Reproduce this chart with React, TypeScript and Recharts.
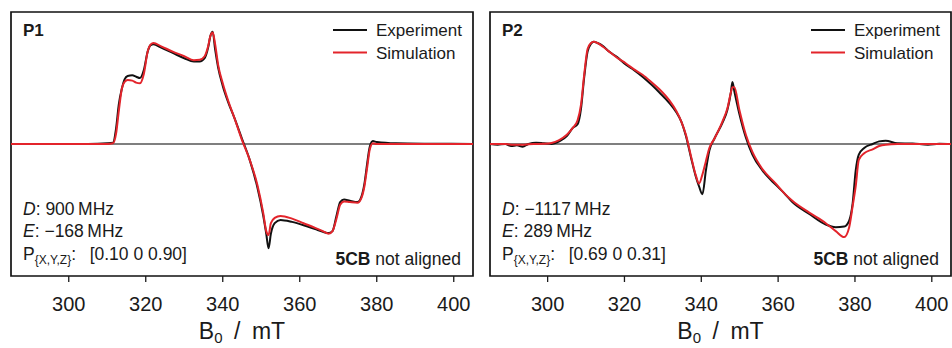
import { LineChart, Line, XAxis, YAxis, ReferenceLine, ReferenceArea } from "recharts";

// P1 spectrum (field in mT, signal normalised to the frame half-height)
const field1 = [285, 295, 305, 310, 311.5, 312.3, 313, 313.8, 314.5, 315.3, 316.5, 317.5, 318.5, 319.5, 320.5, 321.3, 322, 324, 327, 330, 332.5, 334, 335.3, 336.2, 336.8, 337.4, 338, 338.8, 340, 341.5, 343, 345, 347, 349, 350.5, 351.3, 351.9, 352.5, 353.5, 355, 358, 361, 364, 366, 367.5, 368.5, 369.5, 370.5, 371.5, 373, 375, 376, 376.8, 377.5, 378.2, 379, 380, 385, 395, 405];
const exp1 = [0, 0, 0, 0.005, 0.01, 0.12, 0.3, 0.42, 0.49, 0.515, 0.52, 0.51, 0.5, 0.56, 0.7, 0.75, 0.755, 0.73, 0.69, 0.65, 0.625, 0.625, 0.65, 0.73, 0.82, 0.85, 0.72, 0.58, 0.44, 0.31, 0.2, 0.04, -0.12, -0.33, -0.54, -0.68, -0.79, -0.68, -0.6, -0.575, -0.59, -0.615, -0.645, -0.665, -0.675, -0.66, -0.55, -0.44, -0.42, -0.43, -0.44, -0.4, -0.3, -0.15, -0.02, 0.022, 0.015, 0.005, 0.002, 0];
const sim1 = [0, 0, 0, 0, 0.005, 0.08, 0.25, 0.42, 0.47, 0.485, 0.48, 0.465, 0.46, 0.53, 0.7, 0.755, 0.765, 0.74, 0.7, 0.665, 0.635, 0.638, 0.665, 0.74, 0.82, 0.845, 0.76, 0.6, 0.46, 0.32, 0.2, 0.03, -0.12, -0.31, -0.52, -0.66, -0.69, -0.6, -0.56, -0.545, -0.565, -0.6, -0.635, -0.66, -0.68, -0.66, -0.57, -0.46, -0.435, -0.44, -0.445, -0.41, -0.32, -0.18, -0.04, 0.005, 0, 0, 0, 0];

// P2 spectrum
const field2 = [285, 287, 289, 290.5, 292, 293.5, 295, 297, 299, 301, 303, 305, 306.5, 307.8, 308.7, 309.5, 310.4, 311.3, 312, 313, 314.5, 316, 318, 320.4, 322.5, 324.7, 327, 329.1, 331.7, 333.5, 334.8, 336, 337.3, 338.6, 339.4, 340.3, 341.2, 342.1, 343.4, 345.5, 346.8, 347.7, 348.1, 348.6, 349.9, 351.6, 353.3, 355.9, 359.4, 361.5, 363.7, 368.1, 372.4, 375, 377.2, 378.5, 379.4, 380.2, 381, 382.4, 384.6, 386.3, 388, 391, 395, 399, 402, 405];
const exp2 = [0, -0.005, 0, -0.015, -0.01, -0.02, 0, 0.01, 0.005, 0, 0.02, 0.06, 0.12, 0.15, 0.27, 0.5, 0.7, 0.76, 0.775, 0.765, 0.74, 0.7, 0.66, 0.6, 0.56, 0.51, 0.45, 0.39, 0.31, 0.24, 0.17, 0.06, -0.1, -0.25, -0.32, -0.38, -0.2, -0.05, 0.04, 0.16, 0.26, 0.39, 0.47, 0.4, 0.23, 0.05, -0.08, -0.2, -0.31, -0.37, -0.44, -0.53, -0.61, -0.63, -0.625, -0.58, -0.45, -0.2, -0.08, -0.03, 0, 0.02, 0.025, 0.005, 0.003, -0.005, 0.002, 0];
const sim2 = [0, 0, 0, -0.005, -0.005, -0.005, -0.002, 0, 0.002, 0.008, 0.03, 0.07, 0.12, 0.18, 0.3, 0.52, 0.72, 0.765, 0.775, 0.765, 0.735, 0.7, 0.655, 0.61, 0.565, 0.525, 0.47, 0.415, 0.33, 0.25, 0.17, 0.07, -0.09, -0.24, -0.3, -0.23, -0.13, -0.03, 0.04, 0.17, 0.27, 0.39, 0.43, 0.43, 0.26, 0.07, -0.06, -0.19, -0.3, -0.37, -0.43, -0.52, -0.6, -0.66, -0.705, -0.63, -0.47, -0.32, -0.12, -0.07, -0.04, -0.015, -0.005, 0, 0, 0, 0, 0];

const xTicks = [300, 320, 340, 360, 380, 400];
const seriesNames = ["Experiment", "Simulation"];
const seriesColors = ["#111111", "#e3242b"];
const params1 = ["900", "\u2212168", "[0.10 0 0.90]"];
const params2 = ["\u22121117", "289", "[0.69 0 0.31]"];

const FONT = "'Liberation Sans', Arial, sans-serif";
const TXT = "#1a1a1a";
const W = 476;
const H = 348;

function AxisTitle(props: any) {
  const vb = props.viewBox || {};
  return (
    <text x={vb.x + vb.width / 2} y={339} textAnchor="middle" fontSize={23} fill={TXT} fontFamily={FONT}>
      B<tspan fontSize={15} dy={4}>0</tspan>
      <tspan dy={-4}>{"\u2002/\u2002mT"}</tspan>
    </text>
  );
}

function Panel({ left, fl, fr, title, field, exp, sim, params }: any) {
  const data = field.map((b: number, i: number) => ({ b, exp: exp[i], sim: sim[i] }));
  return (
    <div style={{ position: "absolute", left, top: 0, width: W, height: H }}>
      <LineChart width={W} height={H} data={data} margin={{ top: 12, right: W - fr, bottom: 12, left: fl }}>
        <XAxis
          dataKey="b"
          type="number"
          domain={[285, 405]}
          ticks={xTicks}
          allowDataOverflow
          axisLine={false}
          tickLine={{ stroke: TXT, strokeWidth: 1.3 }}
          tickSize={6}
          tickMargin={15}
          height={60}
          tick={{ fontSize: 20, fill: TXT, fontFamily: FONT }}
          label={<AxisTitle />}
        />
        <YAxis hide domain={[-1, 1]} allowDataOverflow />
        <ReferenceLine y={0} stroke="#000" strokeWidth={1.2} />
        <Line type="monotone" dataKey="exp" stroke={seriesColors[0]} strokeWidth={2} dot={false} isAnimationActive={false} />
        <Line type="monotone" dataKey="sim" stroke={seriesColors[1]} strokeWidth={2} dot={false} isAnimationActive={false} />
        <ReferenceArea x1={285} x2={405} y1={-1} y2={1} fill="none" fillOpacity={0} stroke="#111" strokeWidth={1.7} />
      </LineChart>
      <svg width={W} height={H} style={{ position: "absolute", left: 0, top: 0, pointerEvents: "none" }} fontFamily={FONT} fill={TXT}>
        <text x={fl + 12} y={36} fontSize={17} fontWeight="bold">{title}</text>
        {seriesNames.map((name, i) => (
          <g key={name}>
            <line x1={fr - 140} x2={fr - 106} y1={30 + i * 22.5} y2={30 + i * 22.5} stroke={seriesColors[i]} strokeWidth={2} />
            <text x={fr - 97} y={36 + i * 23} fontSize={17}>{name}</text>
          </g>
        ))}
        <text x={fl + 12} y={215} fontSize={17.5}>
          <tspan fontStyle="italic">D</tspan>: {params[0]}{"\u2009"}MHz
        </text>
        <text x={fl + 12} y={237} fontSize={17.5}>
          <tspan fontStyle="italic">E</tspan>: {params[1]}{"\u2009"}MHz
        </text>
        <text x={fl + 12} y={260} fontSize={17.5}>
          P<tspan fontSize={12} dy={4}>{"{X,Y,Z}"}</tspan>
          <tspan dy={-4}>: {"\u2002"}{params[2]}</tspan>
        </text>
        <text x={fr - 12} y={265} fontSize={17.5} textAnchor="end">
          <tspan fontWeight="bold">5CB</tspan> not aligned
        </text>
      </svg>
    </div>
  );
}

export default function App() {
  return (
    <div style={{ position: "absolute", left: 0, top: 0, width: 952, height: H, background: "#fff" }}>
      <Panel left={0} fl={11} fr={473} title="P1" field={field1} exp={exp1} sim={sim1} params={params1} />
      <Panel left={476} fl={14} fr={475} title="P2" field={field2} exp={exp2} sim={sim2} params={params2} />
    </div>
  );
}
